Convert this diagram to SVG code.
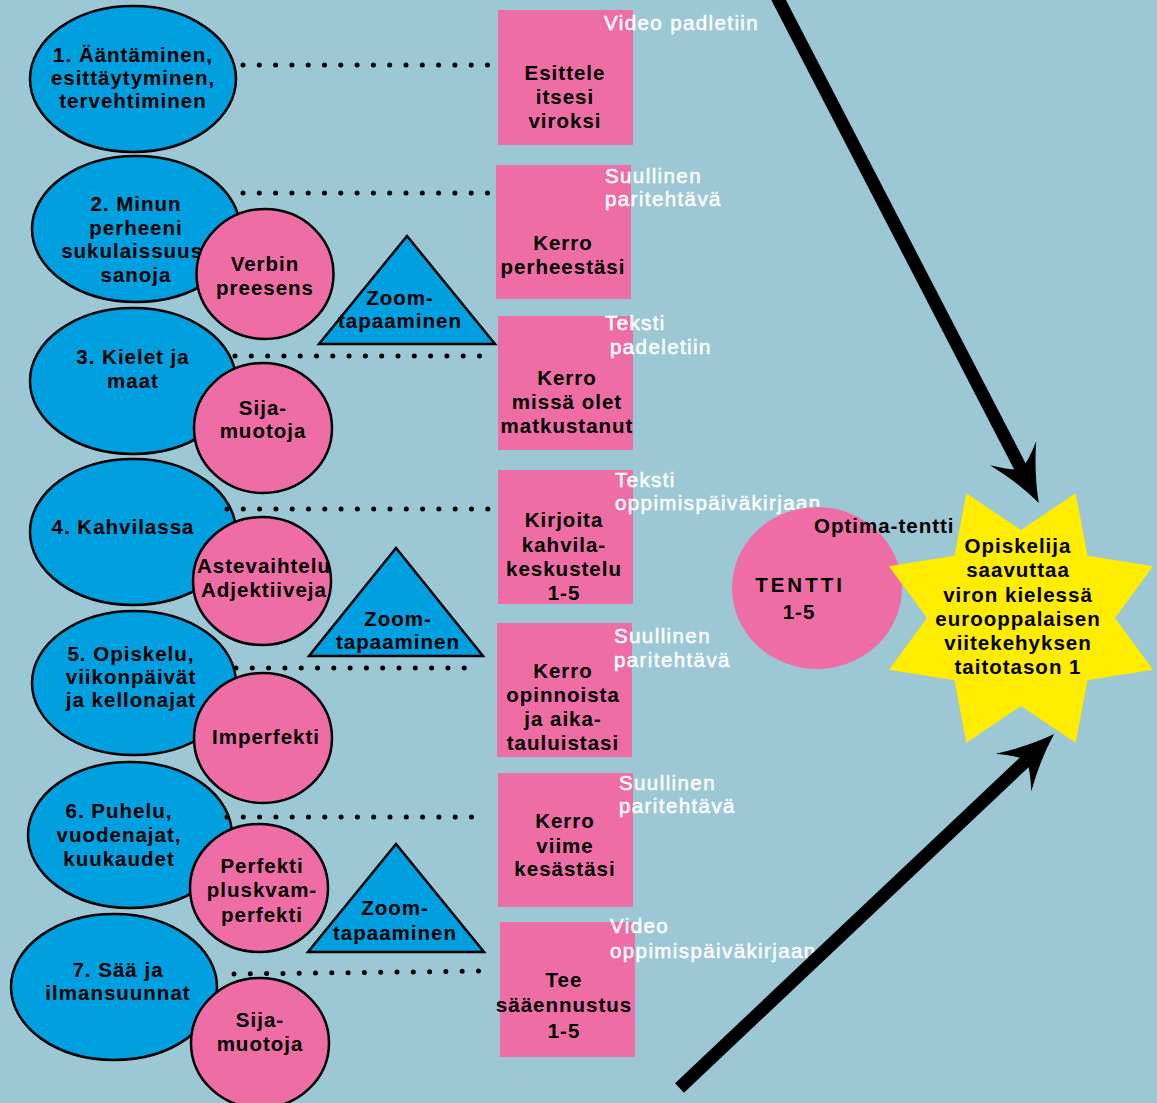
<svg xmlns="http://www.w3.org/2000/svg" width="1157" height="1103" viewBox="0 0 1157 1103">
<style>
.bl{fill:#009FE0;stroke:#000;stroke-width:2.5}
.pk{fill:#EE6DA5;stroke:#000;stroke-width:2.5}
.rc{fill:#EE6DA5}
.t{font-family:"Liberation Sans",Arial,sans-serif;font-weight:700;font-size:20.5px;letter-spacing:1px;fill:#000;text-anchor:middle}
.w{font-family:"Liberation Sans",Arial,sans-serif;font-weight:400;font-size:20.5px;letter-spacing:1.4px;fill:#fff;stroke:#fff;stroke-width:0.5}
.dot{stroke:#000;stroke-width:5;stroke-linecap:round;stroke-dasharray:0 16.3;fill:none}
.arr{stroke:#000;stroke-width:13;fill:none}
</style>
<defs>
<marker id="ah" markerUnits="userSpaceOnUse" viewBox="-22 -28 62 56" refX="0" refY="0" markerWidth="62" markerHeight="56" orient="auto">
<path d="M38,0 Q10,-9 -18,-26 Q-4,-10 0,0 Q-4,10 -18,26 Q10,9 38,0 Z" fill="#000"/>
</marker>
</defs>
<rect width="1157" height="1103" fill="#9CC8D5"/>

<g id="topic1"><ellipse class="bl" cx="133" cy="79" rx="103" ry="73"/>
<text class="t" x="133" y="62">1. Ääntäminen,</text><text class="t" x="133" y="85">esittäytyminen,</text><text class="t" x="133" y="108">tervehtiminen</text></g>
<g id="topic2"><ellipse class="bl" cx="136" cy="229" rx="104" ry="73"/>
<text class="t" x="136" y="211">2. Minun</text><text class="t" x="136" y="235">perheeni</text><text class="t" x="136" y="258">sukulaissuus-</text><text class="t" x="136" y="282">sanoja</text></g>
<g id="topic3"><ellipse class="bl" cx="133" cy="381" rx="103" ry="73"/>
<text class="t" x="133" y="364">3. Kielet ja</text><text class="t" x="133" y="388">maat</text></g>
<g id="topic4"><ellipse class="bl" cx="133" cy="532" rx="103" ry="73"/>
<text class="t" x="123" y="534">4. Kahvilassa</text></g>
<g id="topic5"><ellipse class="bl" cx="134" cy="683" rx="102" ry="72"/>
<text class="t" x="131" y="661">5. Opiskelu,</text><text class="t" x="131" y="684">viikonpäivät</text><text class="t" x="131" y="707">ja kellonajat</text></g>
<g id="topic6"><ellipse class="bl" cx="130" cy="835" rx="102" ry="73"/>
<text class="t" x="119" y="818">6. Puhelu,</text><text class="t" x="119" y="842">vuodenajat,</text><text class="t" x="119" y="866">kuukaudet</text></g>
<g id="topic7"><ellipse class="bl" cx="114" cy="987" rx="103" ry="73"/>
<text class="t" x="118" y="977">7. Sää ja</text><text class="t" x="118" y="1000">ilmansuunnat</text></g>

<g id="gram1"><ellipse class="pk" cx="265" cy="274" rx="68.5" ry="65"/>
<text class="t" x="265" y="271">Verbin</text><text class="t" x="265" y="295">preesens</text></g>
<g id="gram2"><ellipse class="pk" cx="263" cy="428" rx="69" ry="65"/>
<text class="t" x="263" y="415">Sija-</text><text class="t" x="263" y="438">muotoja</text></g>
<g id="gram3"><ellipse class="pk" cx="262" cy="581" rx="69" ry="64"/>
<text class="t" x="264" y="573">Astevaihtelu</text><text class="t" x="264" y="597">Adjektiiveja</text></g>
<g id="gram4"><ellipse class="pk" cx="263" cy="738" rx="69" ry="65"/>
<text class="t" x="266" y="744">Imperfekti</text></g>
<g id="gram5"><ellipse class="pk" cx="259" cy="888" rx="69" ry="64"/>
<text class="t" x="262" y="873">Perfekti</text><text class="t" x="262" y="897">pluskvam-</text><text class="t" x="262" y="922">perfekti</text></g>
<g id="gram6"><ellipse class="pk" cx="260" cy="1043" rx="69" ry="65"/>
<text class="t" x="260" y="1027">Sija-</text><text class="t" x="260" y="1051">muotoja</text></g>

<g id="connectors">
<line class="dot" x1="243" y1="65" x2="497" y2="65"/>
<line class="dot" x1="243" y1="193" x2="497" y2="193"/>
<line class="dot" x1="235" y1="356" x2="480" y2="356"/>
<line class="dot" x1="227" y1="509" x2="488" y2="509"/>
<line class="dot" x1="236" y1="668" x2="475" y2="668"/>
<line class="dot" x1="227" y1="817" x2="482" y2="817"/>
<line class="dot" x1="234" y1="974" x2="488" y2="971"/>
</g>

<g id="zoom1"><polygon class="bl" points="407,236 319,344 495,344"/>
<text class="t" x="400" y="305">Zoom-</text><text class="t" x="400" y="328">tapaaminen</text></g>
<g id="zoom2"><polygon class="bl" points="396,548 309,656 483,656"/>
<text class="t" x="398" y="626">Zoom-</text><text class="t" x="398" y="649">tapaaminen</text></g>
<g id="zoom3"><polygon class="bl" points="396,844 308,952 484,952"/>
<text class="t" x="395" y="915">Zoom-</text><text class="t" x="395" y="940">tapaaminen</text></g>

<g id="task1"><rect class="rc" x="498" y="10" width="135" height="135"/>
<text class="t" x="565" y="80">Esittele</text><text class="t" x="565" y="104">itsesi</text><text class="t" x="565" y="128">viroksi</text>
<text class="w" x="604" y="30">Video padletiin</text></g>
<g id="task2"><rect class="rc" x="496" y="165" width="135" height="134"/>
<text class="t" x="563" y="250">Kerro</text><text class="t" x="563" y="274">perheestäsi</text>
<text class="w" x="605" y="183">Suullinen</text><text class="w" x="605" y="206">paritehtävä</text></g>
<g id="task3"><rect class="rc" x="498" y="316" width="135" height="134"/>
<text class="t" x="567" y="385">Kerro</text><text class="t" x="567" y="409">missä olet</text><text class="t" x="567" y="433">matkustanut</text>
<text class="w" x="605" y="330">Teksti</text><text class="w" x="610" y="354">padeletiin</text></g>
<g id="task4"><rect class="rc" x="498" y="470" width="135" height="134"/>
<text class="t" x="564" y="527">Kirjoita</text><text class="t" x="564" y="552">kahvila-</text><text class="t" x="564" y="576">keskustelu</text><text class="t" x="564" y="600">1-5</text>
<text class="w" x="615" y="487">Teksti</text><text class="w" x="615" y="510">oppimispäiväkirjaan</text></g>
<g id="task5"><rect class="rc" x="497" y="623" width="135" height="134"/>
<text class="t" x="563" y="678">Kerro</text><text class="t" x="563" y="702">opinnoista</text><text class="t" x="563" y="726">ja aika-</text><text class="t" x="563" y="750">tauluistasi</text>
<text class="w" x="614" y="643">Suullinen</text><text class="w" x="614" y="667">paritehtävä</text></g>
<g id="task6"><rect class="rc" x="498" y="773" width="135" height="134"/>
<text class="t" x="565" y="828">Kerro</text><text class="t" x="565" y="853">viime</text><text class="t" x="565" y="876">kesästäsi</text>
<text class="w" x="619" y="790">Suullinen</text><text class="w" x="619" y="813">paritehtävä</text></g>
<g id="task7"><rect class="rc" x="500" y="922" width="135" height="135"/>
<text class="t" x="564" y="987">Tee</text><text class="t" x="564" y="1012">sääennustus</text><text class="t" x="564" y="1038">1-5</text>
<text class="w" x="610" y="933">Video</text><text class="w" x="610" y="958">oppimispäiväkirjaan</text></g>

<g id="exam"><ellipse cx="817" cy="588" rx="85" ry="81" fill="#EE6DA5"/>
<text class="t" x="800" y="592" style="letter-spacing:3px">TENTTI</text><text class="t" x="799" y="619">1-5</text></g>

<g id="goal"><polygon fill="#FFED00" points="1021,530 1075.7,493.3 1087.5,555.8 1153.1,566.3 1115,618 1153.1,669.7 1087.5,680.2 1075.7,742.7 1021,706 966.3,742.7 954.5,680.2 888.9,669.7 927,618 888.9,566.3 954.5,555.8 966.3,493.3"/>
<text class="t" x="1018" y="553">Opiskelija</text><text class="t" x="1018" y="577">saavuttaa</text><text class="t" x="1018" y="602">viron kielessä</text><text class="t" x="1018" y="626">eurooppalaisen</text><text class="t" x="1018" y="650">viitekehyksen</text><text class="t" x="1018" y="674">taitotason 1</text></g>

<text class="t" x="814" y="533" style="text-anchor:start">Optima-tentti</text>

<g id="arrows">
<line class="arr" x1="776" y1="-5" x2="1021.4" y2="469.3" marker-end="url(#ah)"/>
<line class="arr" x1="679.5" y1="1088" x2="1026.5" y2="760.2" marker-end="url(#ah)"/>
</g>
</svg>
